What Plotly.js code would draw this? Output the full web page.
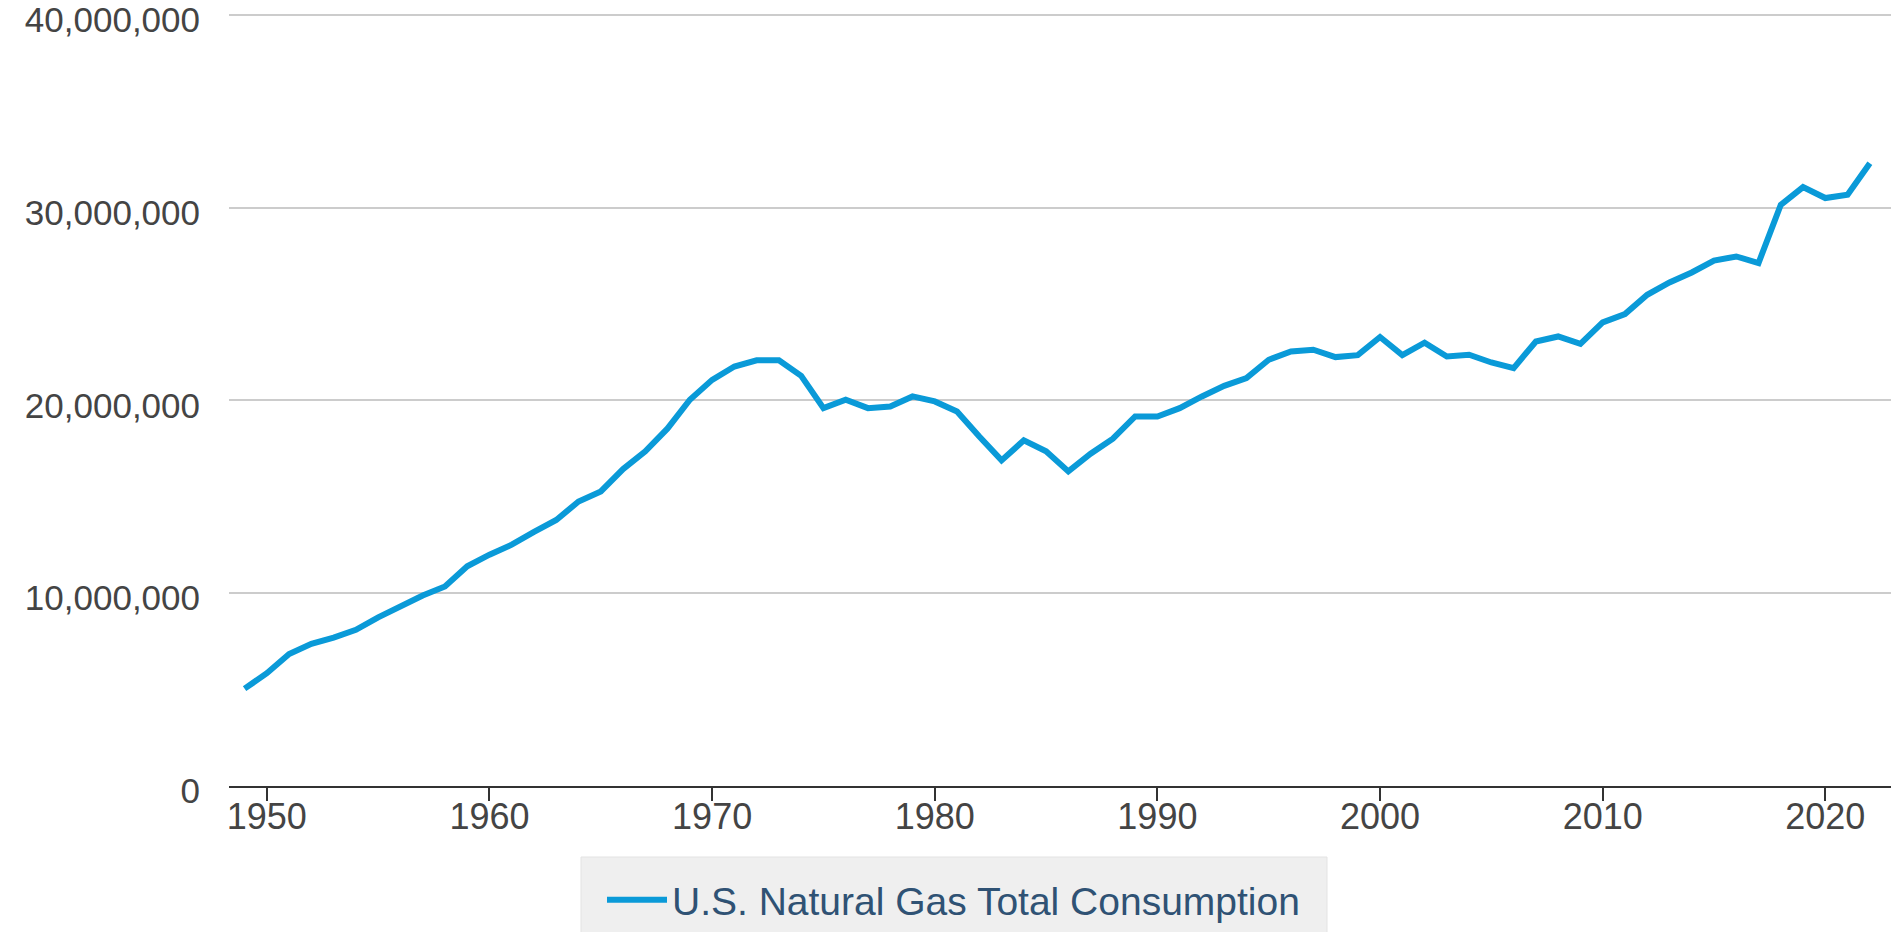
<!DOCTYPE html>
<html>
<head>
<meta charset="utf-8">
<script src="https://cdn.plot.ly/plotly-3.0.1.min.js"></script>
<style>
  html, body { margin: 0; padding: 0; background: #ffffff; }
  #chart { width: 1903px; height: 932px; }
</style>
</head>
<body>
<div id="chart"></div>
<script>
// Years (x values)
const years = [
  1949, 1950, 1951, 1952, 1953, 1954, 1955, 1956, 1957, 1958,
  1959, 1960, 1961, 1962, 1963, 1964, 1965, 1966, 1967, 1968,
  1969, 1970, 1971, 1972, 1973, 1974, 1975, 1976, 1977, 1978,
  1979, 1980, 1981, 1982, 1983, 1984, 1985, 1986, 1987, 1988,
  1989, 1990, 1991, 1992, 1993, 1994, 1995, 1996, 1997, 1998,
  1999, 2000, 2001, 2002, 2003, 2004, 2005, 2006, 2007, 2008,
  2009, 2010, 2011, 2012, 2013, 2014, 2015, 2016, 2017, 2018,
  2019, 2020, 2021, 2022
];

// U.S. Natural Gas Total Consumption
const consumption = [
  5050000, 5850000, 6850000, 7380000, 7700000, 8100000, 8750000, 9320000, 9880000, 10350000,
  11400000, 12000000, 12520000, 13180000, 13800000, 14760000, 15280000, 16440000, 17360000, 18550000,
  20040000, 21070000, 21760000, 22080000, 22080000, 21280000, 19600000, 20040000, 19600000, 19690000,
  20210000, 19950000, 19430000, 18130000, 16890000, 17930000, 17360000, 16320000, 17240000, 18020000,
  19170000, 19170000, 19600000, 20210000, 20760000, 21160000, 22110000, 22540000, 22630000, 22250000,
  22350000, 23290000, 22350000, 23000000, 22280000, 22370000, 21970000, 21680000, 23060000, 23320000,
  22940000, 24050000, 24480000, 25480000, 26120000, 26640000, 27260000, 27470000, 27130000, 30150000,
  31070000, 30500000, 30670000, 32310000
];

const seriesName = "U.S. Natural Gas Total Consumption";
const xTickVals = [1950, 1960, 1970, 1980, 1990, 2000, 2010, 2020];
const yTickVals = [0, 10000000, 20000000, 30000000, 40000000];

const W = 1903, H = 932;
const M = { l: 229, r: 12, t: 13, b: 146 };
const plotW = W - M.l - M.r, plotH = H - M.t - M.b;
const px2x = px => (px - M.l) / plotW;
const px2y = py => (H - M.b - py) / plotH;

const trace = {
  x: years,
  y: consumption,
  type: "scatter",
  mode: "lines",
  name: seriesName,
  line: { color: "#0a9ad8", width: 6 },
  showlegend: true
};

const layout = {
  width: W,
  height: H,
  margin: { l: M.l, r: M.r, t: M.t, b: M.b, autoexpand: false },
  paper_bgcolor: "#ffffff",
  plot_bgcolor: "#ffffff",
  font: { family: "Liberation Sans, Arial, sans-serif", size: 35, color: "#444444" },
  showlegend: true,
  xaxis: {
    range: [1948.3, 2022.95],
    tickvals: xTickVals,
    ticktext: xTickVals.map(String),
    showgrid: false,
    zeroline: false,
    showline: true,
    linecolor: "#333333",
    linewidth: 2,
    ticks: "outside",
    ticklen: 13,
    tickwidth: 2,
    tickcolor: "#333333",
    ticklabelstandoff: -15,
    tickfont: { size: 36, color: "#444444" },
    fixedrange: true
  },
  yaxis: {
    range: [0, 40100000],
    tickvals: yTickVals,
    tickformat: ",",
    showgrid: true,
    gridcolor: "#cccccc",
    gridwidth: 2,
    zeroline: false,
    showline: false,
    ticks: "",
    ticklabelstandoff: 28,
    ticklabelshift: 5,
    tickfont: { size: 35, color: "#444444" },
    fixedrange: true
  },
  legend: {
    orientation: "h",
    x: px2x(602),
    xanchor: "left",
    y: px2y(900),
    yanchor: "middle",
    bgcolor: "rgba(0,0,0,0)",
    borderwidth: 0,
    itemwidth: 60,
    font: { size: 39, color: "#2f5274", family: "Liberation Sans, Arial, sans-serif" }
  },
  shapes: [
    {
      type: "rect",
      xref: "paper",
      yref: "paper",
      x0: px2x(581),
      x1: px2x(1327),
      y0: px2y(857),
      y1: px2y(960),
      fillcolor: "#efefef",
      line: { color: "#e3e3e3", width: 1 },
      layer: "below"
    }
  ]
};

Plotly.newPlot("chart", [trace], layout, { staticPlot: true, displayModeBar: false });
</script>
</body>
</html>
